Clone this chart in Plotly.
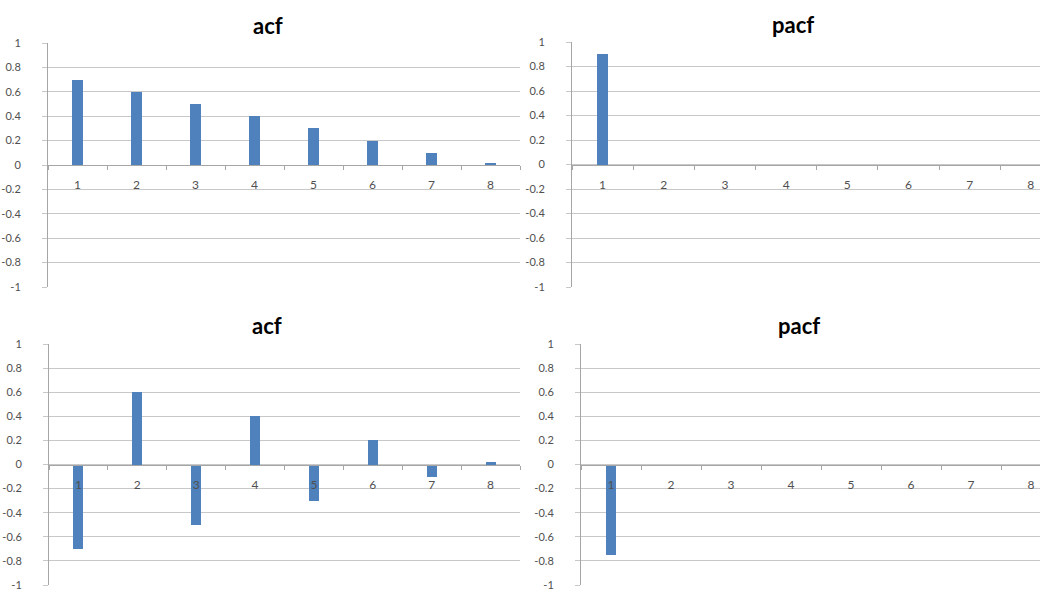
import plotly.graph_objects as go

lags = ["1", "2", "3", "4", "5", "6", "7", "8"]
acf_top = [0.7, 0.6, 0.5, 0.4, 0.3, 0.2, 0.1, 0.02]
pacf_top = [0.9, 0, 0, 0, 0, 0, 0, 0]
acf_bottom = [-0.7, 0.6, -0.5, 0.4, -0.3, 0.2, -0.1, 0.02]
pacf_bottom = [-0.75, 0, 0, 0, 0, 0, 0, 0]
titles = ["acf", "pacf", "acf", "pacf"]
y_tickvals = [1, 0.8, 0.6, 0.4, 0.2, 0, -0.2, -0.4, -0.6, -0.8, -1]
y_ticktext = ["1", "0.8", "0.6", "0.4", "0.2", "0", "-0.2", "-0.4", "-0.6", "-0.8", "-1"]

W, H = 1040, 590
BAR = "#4F81BD"
GRID = "#C8C8C8"
AXIS = "#A6A6A6"
TXT = "#505050"
FONT = "Lato"

# panel geometry in pixels: (x0, x1, ytop, ybot, range end, title centre x)
panels = [
    (48, 520, 43, 287, 7.5, 268),
    (572, 1040, 42, 287, 7.15, 793),
    (49, 520, 344, 585, 7.5, 267),
    (581, 1040, 344, 585, 7.15, 799),
]
series = [acf_top, pacf_top, acf_bottom, pacf_bottom]

fig = go.Figure()
layout = dict(
    width=W, height=H, margin=dict(l=0, r=0, t=0, b=0, autoexpand=False),
    paper_bgcolor="white", plot_bgcolor="white", showlegend=False,
    bargap=0,
)
annotations = []
for i, ((x0, x1, yt, yb, rend, tx), vals, ttl) in enumerate(zip(panels, series, titles)):
    n = "" if i == 0 else str(i + 1)
    xd = [x0 / W, x1 / W]
    yd = [1 - yb / H, 1 - yt / H]
    fig.add_trace(go.Bar(x=lags, y=vals, width=0.17, marker=dict(color=BAR, line=dict(width=0)),
                         xaxis="x" + n, yaxis="y" + n))
    layout["xaxis" + n] = dict(
        domain=xd, anchor="free", position=(yd[0] + yd[1]) / 2, automargin=False,
        type="category", range=[-0.5, rend], tickson="boundaries",
        showgrid=False, zeroline=False, showline=True, linecolor=AXIS, linewidth=1,
        ticks="outside", ticklen=4, tickcolor=AXIS, ticklabelstandoff=9,
        tickfont=dict(family=FONT, size=12, color=TXT), fixedrange=True,
    )
    layout["yaxis" + n] = dict(
        domain=yd, anchor="x" + n, range=[-1, 1], automargin=False,
        tickvals=y_tickvals, ticktext=y_ticktext, ticklabeloverflow="allow",
        showgrid=True, gridcolor=GRID, gridwidth=1, zeroline=False,
        showline=True, linecolor=AXIS, linewidth=1,
        ticks="outside", ticklen=5, tickcolor=GRID, ticklabelstandoff=19,
        tickfont=dict(family=FONT, size=11, color=TXT), fixedrange=True,
    )
    annotations.append(dict(
        text="<b>" + ttl + "</b>", x=tx / W,
        y=1 - (yt - 18) / H, xref="paper", yref="paper", showarrow=False,
        font=dict(family=FONT, size=22, color="#000000"), yanchor="middle", xanchor="center",
    ))
layout["annotations"] = annotations
fig.update_layout(**layout)
fig.write_html(
    "out.html",
    config={"displayModeBar": False, "staticPlot": True},
    post_script="document.body.style.margin='0';document.body.style.overflow='hidden';",
)
